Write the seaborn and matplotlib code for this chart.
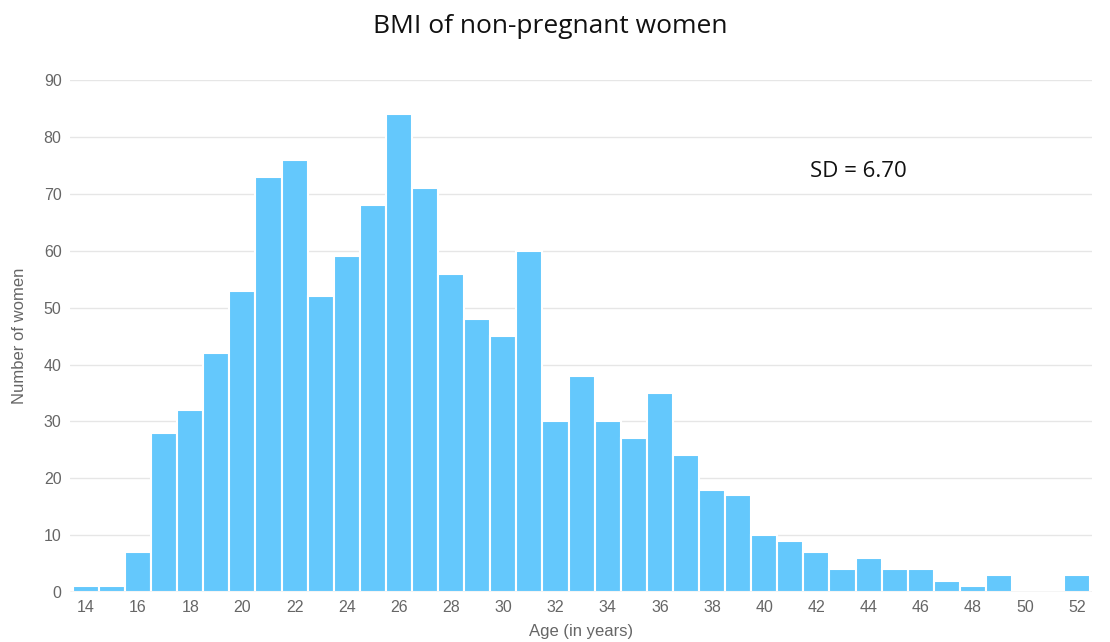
import matplotlib
matplotlib.use("Agg")
import matplotlib.pyplot as plt
import seaborn as sns
import pandas as pd

ages = list(range(14, 53))
counts = [1, 1, 7, 28, 32, 42, 53, 73, 76, 52,
          59, 68, 84, 71, 56, 48, 45, 60, 30, 38,
          30, 27, 35, 24, 18, 17, 10, 9, 7, 4,
          6, 4, 4, 2, 1, 3, 0, 0, 3]
x_ticks = list(range(14, 53, 2))
y_ticks = list(range(0, 91, 10))
title = "BMI of non-pregnant women"
sd_label = "SD = 6.70"

df = pd.DataFrame({"age": ages, "count": counts})

sns.set_theme(style="white")
plt.rcParams["font.family"] = ["Liberation Sans", "DejaVu Sans"]

fig = plt.figure(figsize=(11.10, 6.42), dpi=100)
ax = fig.add_axes([0.063, 0.078, 0.921, 0.797])

sns.barplot(data=df, x="age", y="count", native_scale=True, width=1.0,
            color="#64c8fc", saturation=1, edgecolor="white", linewidth=1.5,
            ax=ax, zorder=3)

ax.set_xlim(13.39, 52.57)
ax.set_ylim(0, 90)
ax.set_xticks(x_ticks)
ax.set_yticks(y_ticks)
ax.yaxis.grid(True, color="#e6e6e6", linewidth=1, zorder=0)
ax.xaxis.grid(False)
for s in ax.spines.values():
    s.set_visible(False)
ax.axhline(0, color="#d0d0d0", linewidth=1, zorder=4)
ax.tick_params(axis="both", length=0, labelsize=11.5, labelcolor="#666666", pad=6)
ax.set_xlabel("Age (in years)", fontsize=12, color="#666666", labelpad=6)
ax.set_ylabel("Number of women", fontsize=12, color="#666666", labelpad=12)

fig.text(0.496, 0.958, title, ha="center", va="center", fontsize=19,
         family=["Open Sans", "DejaVu Sans"], color="#111111")
fig.text(0.773, 0.733, sd_label, ha="center", va="center",
         fontsize=16, family=["Open Sans", "DejaVu Sans"], color="#111111")

fig.savefig("out.png", dpi=100)
